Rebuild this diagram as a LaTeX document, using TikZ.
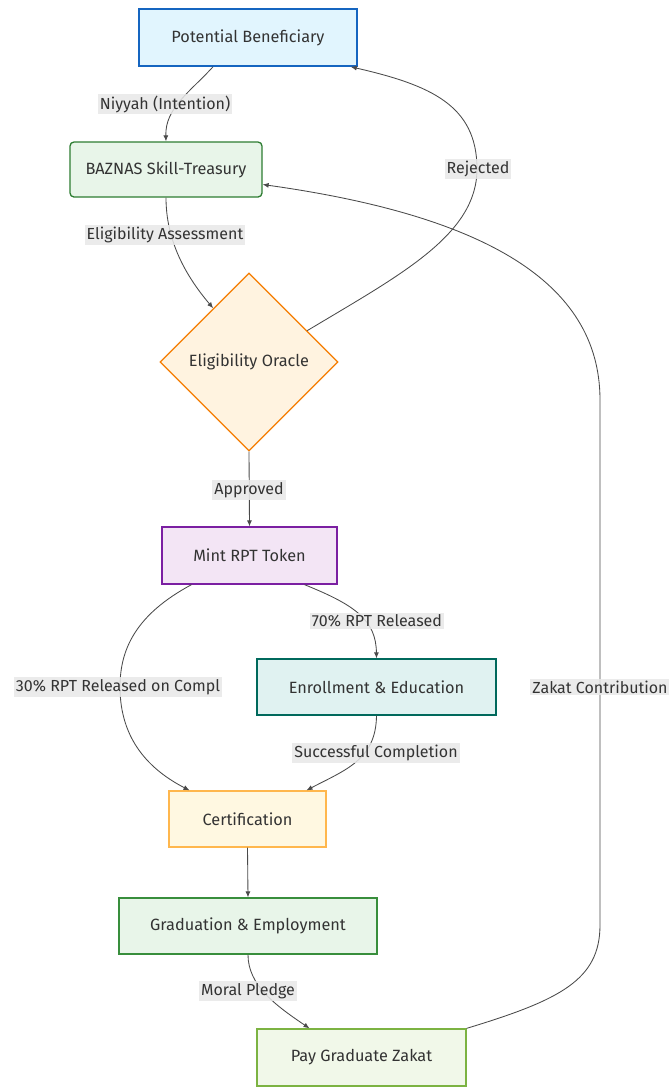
\documentclass[tikz,border=0pt]{standalone}
\usepackage{fontspec}
\setmainfont{Fira Sans}
\usetikzlibrary{arrows.meta,shapes.geometric,calc}
\definecolor{txt}{HTML}{333333}
\definecolor{edgec}{HTML}{4A4A4A}
\definecolor{lblbg}{HTML}{E8E8E8}
\definecolor{pbfill}{HTML}{E1F5FE}\definecolor{pbdraw}{HTML}{1565C0}
\definecolor{bazfill}{HTML}{E8F5E9}\definecolor{bazdraw}{HTML}{2E7D32}
\definecolor{orafill}{HTML}{FFF3E0}\definecolor{oradraw}{HTML}{F57C00}
\definecolor{mintfill}{HTML}{F3E5F5}\definecolor{mintdraw}{HTML}{7B1FA2}
\definecolor{enrfill}{HTML}{E0F2F1}\definecolor{enrdraw}{HTML}{00695C}
\definecolor{certfill}{HTML}{FFF8E1}\definecolor{certdraw}{HTML}{FFB74D}
\definecolor{gradfill}{HTML}{E8F5E9}\definecolor{graddraw}{HTML}{388E3C}
\definecolor{payfill}{HTML}{F1F8E9}\definecolor{paydraw}{HTML}{7CB342}
\tikzset{
  box/.style={draw, line width=1.3pt, text=txt, font=\fontsize{16.3}{19}\selectfont, inner sep=2pt},
  lbl/.style={fill=lblbg, fill opacity=0.85, text opacity=1, text=txt, inner sep=2pt, font=\fontsize{16}{19}\selectfont},
  edge/.style={draw=edgec, line width=0.85pt, -{Latex[length=6pt,width=5pt]}}
}
\begin{document}
\begin{tikzpicture}[x=1pt,y=-1pt]
\useasboundingbox[fill=white] (0,0) rectangle (669,1090);
% nodes
\node[box, fill=pbfill, draw=pbdraw, line width=1.6pt, minimum width=218pt, minimum height=57pt] (pb) at (248,37.5) {Potential Beneficiary};
\node[box, fill=bazfill, draw=bazdraw, rounded corners=4pt, minimum width=192pt, minimum height=55pt] (baz) at (166,169.5) {BAZNAS Skill-Treasury};
\node[box, diamond, fill=orafill, draw=oradraw, minimum width=178pt, minimum height=178pt, inner sep=0pt] (ora) at (249,362) {Eligibility Oracle};
\node[box, fill=mintfill, draw=mintdraw, minimum width=175pt, minimum height=57pt] (mint) at (249.5,555.5) {Mint RPT Token};
\node[box, fill=enrfill, draw=enrdraw, minimum width=239pt, minimum height=56pt] (enr) at (376.5,687) {Enrollment \& Education};
\node[box, fill=certfill, draw=certdraw, minimum width=157pt, minimum height=56pt] (cert) at (247.5,819) {Certification};
\node[box, fill=gradfill, draw=graddraw, minimum width=258pt, minimum height=56pt] (grad) at (248,926) {Graduation \& Employment};
\node[box, fill=payfill, draw=paydraw, minimum width=209pt, minimum height=57pt] (pay) at (361.5,1057.5) {Pay Graduate Zakat};
% edges
\draw[edge] ([xshift=-35pt]pb.south) .. controls (190,92) and (165,108) .. (baz.north);
\draw[edge] (baz.south) .. controls (166,240) and (185,275) .. ($(ora.north)!0.4!(ora.west)$);
\draw[edge] ($(ora.north)!0.65!(ora.east)$) .. controls (400,275) and (477,235) .. (477,169) .. controls (477,105) and (430,85) .. ([xshift=-7pt]pb.south east);
\draw[edge] (ora.south) -- (mint.north);
\draw[edge] ([xshift=55pt]mint.south) .. controls (355,605) and (376,620) .. (enr.north);
\draw[edge] ([xshift=-58pt]mint.south) .. controls (135,615) and (120,650) .. (120,687) .. controls (120,740) and (150,770) .. ([xshift=-58pt]cert.north);
\draw[edge] (enr.south) .. controls (376,760) and (345,770) .. ([xshift=59pt]cert.north);
\draw[edge] (cert.south) -- (grad.north);
\draw[edge] (grad.south) .. controls (248,985) and (275,1005) .. ([xshift=-52pt]pay.north);
\draw[edge] (pay.north east) .. controls (560,1000) and (600,980) .. (600,925) -- (600,400) .. controls (600,280) and (480,215) .. ([yshift=-15pt]baz.east);
% edge labels
\node[lbl] (l1) at (165,104) {Niyyah (Intention)};
\node[lbl] (l2) at (165,235) {Eligibility Assessment};
\node[lbl] (l3) at (478,169) {Rejected};
\node[lbl] (l4) at (249,490) {Approved};
\node[lbl] (l5) at (377,621) {70\% RPT Released};
\node[lbl] (l6) at (118,687) {30\% RPT Released on Compl};
\node[lbl] (l7) at (376,753) {Successful Completion};
\node[lbl] (l8) at (600,687) {Zakat Contribution};
\node[lbl] (l9) at (248,991) {Moral Pledge};
\end{tikzpicture}
\end{document}
